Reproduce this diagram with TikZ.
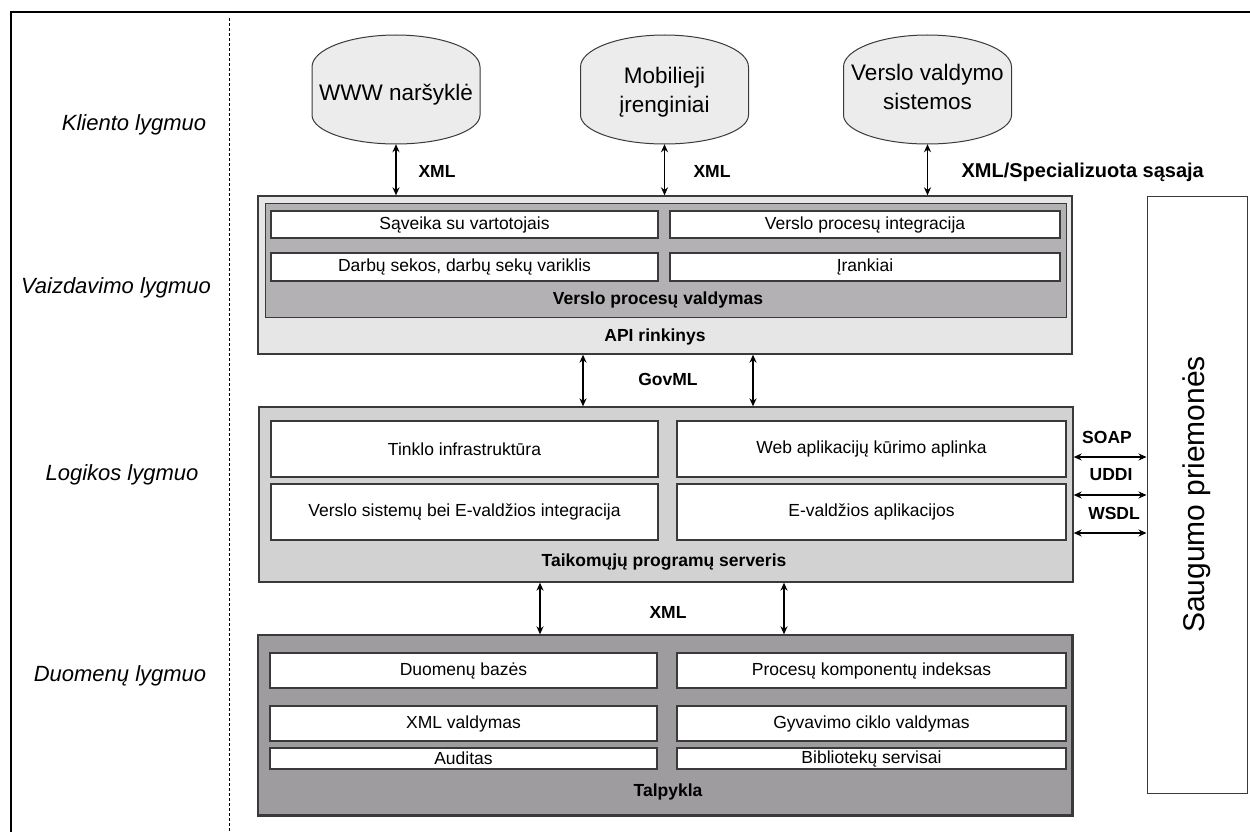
\documentclass[tikz,border=0pt]{standalone}
\usepackage{fontspec}
\setmainfont{Liberation Sans}
\usetikzlibrary{arrows.meta}
\definecolor{cloudgray}{HTML}{ECECEC}
\definecolor{apigray}{HTML}{E6E6E6}
\definecolor{bpmgray}{HTML}{B3B1B3}
\definecolor{appgray}{HTML}{D2D2D2}
\definecolor{storegray}{HTML}{9E9C9E}
\definecolor{edgegray}{HTML}{3A3A3A}

\begin{document}
\begin{tikzpicture}[x=1pt,y=-1pt,>={Stealth[length=8pt,width=7pt]},
  lvl/.style={font=\fontsize{22}{26}\selectfont\itshape},
  layer/.style={draw=edgegray,line width=1.3pt,inner sep=0pt},
  part/.style={draw=edgegray,fill=white,line width=1.1pt,inner sep=0pt,
    font=\fontsize{17.5}{21}\selectfont},
  tag/.style={font=\fontsize{17.5}{20}\bfseries\selectfont},
  ctext/.style={align=center,font=\fontsize{22.5}{29}\selectfont},
  link/.style={<->,line width=1.6pt},
  bubble/.style={fill=cloudgray,draw=edgegray,line width=1pt}]
  \useasboundingbox (0,0) rectangle (1250,832);

  % frame and level column
  \draw[line width=2.5pt] (11,832) -- (11,12) -- (1250,12);
  \draw[line width=0.7pt,dash pattern=on 3pt off 2pt] (229,18) -- (229,832);
  \node[lvl] (kl) at (134,125) {Kliento lygmuo};
  \node[lvl] (va) at (116,288) {Vaizdavimo lygmuo};
  \node[lvl] (lo) at (122,475) {Logikos lygmuo};
  \node[lvl] (du) at (120,676) {Duomenų lygmuo};

  % clients
  \foreach \cx in {396,664.5,927.5}
    \draw[bubble] (\cx-84,67) arc[start angle=180,end angle=360,x radius=84,y radius=32]
      -- (\cx+84,115) arc[start angle=0,end angle=180,x radius=84,y radius=29] -- cycle;
  \node[minimum width=168pt,minimum height=109pt,inner sep=0pt] (www) at (396,89.5) {};
  \node[minimum width=168pt,minimum height=109pt,inner sep=0pt] (mob) at (664.5,89.5) {};
  \node[minimum width=168pt,minimum height=109pt,inner sep=0pt] (ver) at (927.5,89.5) {};
  \node[ctext] at (396,95) {WWW naršyklė};
  \node[ctext] at (664.5,92) {Mobilieji\\įrenginiai};
  \node[ctext] at (927.5,87) {Verslo valdymo\\sistemos};

  % presentation layer
  \node[layer,fill=apigray,minimum width=814pt,minimum height=158pt] (vaiz) at (665,275) {};
  \node[layer,fill=bpmgray,line width=1pt,minimum width=801pt,minimum height=114pt] (bpm) at (665.5,260) {};
  \node[part,minimum width=387pt,minimum height=27pt] (v11) at (464.5,224.5) {Sąveika su vartotojais};
  \node[part,minimum width=390pt,minimum height=27pt] (v12) at (865,224.5) {Verslo procesų integracija};
  \node[part,minimum width=387pt,minimum height=28pt] (v21) at (464.5,267) {Darbų sekos, darbų sekų variklis};
  \node[part,minimum width=390pt,minimum height=28pt] (v22) at (865,267) {Įrankiai};
  \node[tag] (bpmt) at (658,300) {Verslo procesų valdymas};
  \node[tag] (api) at (655,337) {API rinkinys};

  % logic layer
  \node[layer,fill=appgray,minimum width=814pt,minimum height=175pt] (logi) at (666,494.5) {};
  \node[part,minimum width=387pt,minimum height=56pt] (l11) at (464.5,449) {Tinklo infrastruktūra};
  \node[part,minimum width=389pt,minimum height=56pt] (l12) at (871.5,449) {Web aplikacijų kūrimo aplinka};
  \node[part,minimum width=387pt,minimum height=56pt] (l21) at (464.5,512) {Verslo sistemų bei E-valdžios integracija};
  \node[part,minimum width=389pt,minimum height=56pt] (l22) at (871.5,512) {E-valdžios aplikacijos};
  \node[tag] (srv) at (664,562) {Taikomųjų programų serveris};

  % data layer
  \node[layer,fill=storegray,minimum width=814pt,minimum height=180pt] (duom) at (665,725) {};
  \draw[line width=2.2pt,edgegray] (duom.north east) -- (duom.south east) -- (duom.south west);
  \node[part,minimum width=387pt,minimum height=35pt] (d11) at (463.5,670.5) {Duomenų bazės};
  \node[part,minimum width=389pt,minimum height=35pt] (d12) at (871.5,670.5) {Procesų komponentų indeksas};
  \node[part,minimum width=387pt,minimum height=35pt] (d21) at (463.5,723.5) {XML valdymas};
  \node[part,minimum width=389pt,minimum height=35pt] (d22) at (871.5,723.5) {Gyvavimo ciklo valdymas};
  \node[part,minimum width=387pt,minimum height=21pt] (d31) at (463.5,758.5) {Auditas};
  \node[part,minimum width=389pt,minimum height=21pt] (d32) at (871.5,758.5) {Bibliotekų servisai};
  \node[tag] (tal) at (668,792) {Talpykla};

  % security
  \node[draw=edgegray,line width=1pt,minimum width=100pt,minimum height=597pt,inner sep=0pt] (saug) at (1197,494.5) {};
  \node[rotate=90,font=\fontsize{30}{34}\selectfont] at (saug.center) {Saugumo priemonės};

  % connectors
  \draw[link] (www.south) -- (www.south |- vaiz.north);
  \draw[link] (mob.south) -- (mob.south |- vaiz.north);
  \draw[link] (ver.south) -- (ver.south |- vaiz.north);
  \node[tag,anchor=west] at (415,171) {XML};
  \node[tag,anchor=west] at (690,171) {XML};
  \node[tag,anchor=west,font=\fontsize{20}{24}\bfseries\selectfont] at (958,172) {XML/Specializuota sąsaja};

  \coordinate (g1) at (583,0);
  \coordinate (g2) at (753,0);
  \draw[link] (vaiz.south -| g1) -- (logi.north -| g1);
  \draw[link] (vaiz.south -| g2) -- (logi.north -| g2);
  \node[tag] at (668,379) {GovML};

  \coordinate (x1) at (540,0);
  \coordinate (x2) at (784,0);
  \draw[link] (logi.south -| x1) -- (duom.north -| x1);
  \draw[link] (logi.south -| x2) -- (duom.north -| x2);
  \node[tag] at (668,612) {XML};

  \coordinate (soap) at (0,457);
  \coordinate (uddi) at (0,495);
  \coordinate (wsdl) at (0,533);
  \draw[link,line width=1.3pt] (logi.east |- soap) -- (saug.west |- soap);
  \draw[link,line width=1.3pt] (logi.east |- uddi) -- (saug.west |- uddi);
  \draw[link,line width=1.3pt] (logi.east |- wsdl) -- (saug.west |- wsdl);
  \node[tag] at (1107,437) {SOAP};
  \node[tag] at (1111,475) {UDDI};
  \node[tag] at (1114,513) {WSDL};
\end{tikzpicture}
\end{document}
